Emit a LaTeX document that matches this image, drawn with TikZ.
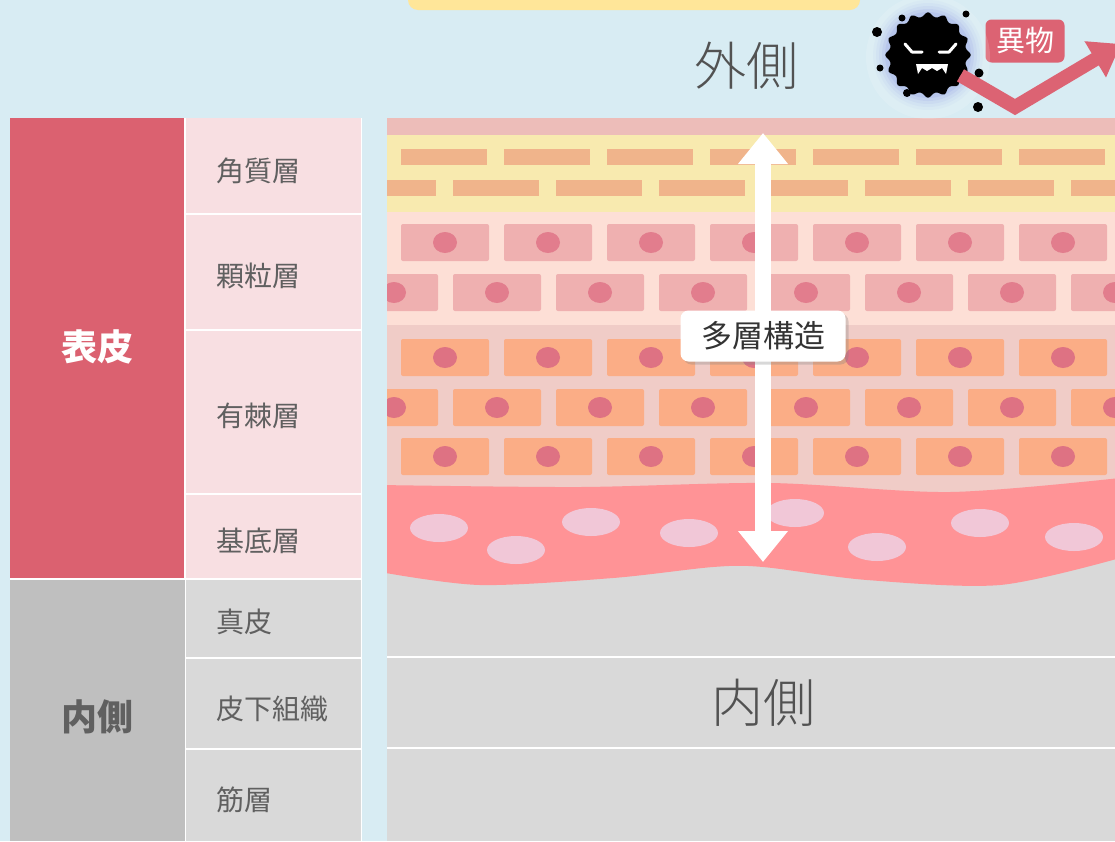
\documentclass[tikz,border=0pt]{standalone}
\usepackage{fontspec}
\setmainfont{Noto Sans CJK JP}
\newfontfamily\thinjp{Noto Sans CJK JP Light}
\usetikzlibrary{arrows.meta,shapes.geometric,shadows}

\definecolor{sky}{HTML}{D8ECF3}
\definecolor{lemon}{HTML}{FFE699}
\definecolor{epired}{HTML}{DB6170}
\definecolor{epipink}{HTML}{F8DFE2}
\definecolor{deepgray}{HTML}{BFBFBF}
\definecolor{palegray}{HTML}{D9D9D9}
\definecolor{txtgray}{HTML}{606060}
\definecolor{horny}{HTML}{EDBDB9}
\definecolor{hornbg}{HTML}{F8EAAF}
\definecolor{hornbrick}{HTML}{F0B48B}
\definecolor{granbg}{HTML}{FDDFD6}
\definecolor{granbrick}{HTML}{EFB0B0}
\definecolor{grannuc}{HTML}{E27D8D}
\definecolor{spinbg}{HTML}{F0CCC7}
\definecolor{spinbrick}{HTML}{FBAD86}
\definecolor{spinnuc}{HTML}{DE7283}
\definecolor{basal}{HTML}{FF9396}
\definecolor{basalcell}{HTML}{F1C7D7}
\definecolor{alien}{HTML}{DC6373}
\definecolor{glow}{HTML}{8E9AE6}

\tikzset{
  layername/.style={anchor=west, text=txtgray, font=\fontsize{28}{32}\selectfont},
  groupname/.style={font=\bfseries\fontsize{36}{40}\selectfont},
  sidename/.style={text=black!68, font=\thinjp\fontsize{52}{58}\selectfont},
  brick/.style={rounded corners=2pt},
  bigarrow/.style={white, line width=16pt,
    {Triangle[width=48pt,length=31pt]}-{Triangle[width=48pt,length=31pt]}},
  tagbox/.style={fill=white, rounded corners=8pt, minimum width=165pt, minimum height=51pt,
    text=black!80, font=\fontsize{31}{34}\selectfont,
    drop shadow={shadow xshift=3pt, shadow yshift=-3pt, opacity=.3}},
  alienbox/.style={fill=alien, rounded corners=6pt, minimum width=79pt, minimum height=43pt,
    text=white, font=\fontsize{29}{32}\selectfont},
  alienarrow/.style={alien, line width=14pt, -{Triangle[width=40pt,length=30pt]}},
}

\begin{document}
\begin{tikzpicture}[x=1pt,y=-1pt]
\useasboundingbox (0,0) rectangle (1115,841);
\fill[sky] (0,0) rectangle (1115,841);
\fill[lemon, rounded corners=10pt] (408,-20) rectangle (860,10);

% table on the left
\fill[white] (10,118) rectangle (362,841);
\fill[epired] (10,118) rectangle (184,578);
\fill[epipink] (186,118) rectangle (361,578);
\fill[deepgray] (10,580) rectangle (185,841);
\fill[palegray] (186,580) rectangle (361,841);
\foreach \y in {214,330,493.5,658,749}
  \draw[white, line width=2pt] (186,\y) -- (361,\y);

\node[groupname, text=white] (hyohi) at (97,347) {表皮};
\node[groupname, text=txtgray] (naisoku) at (97,717) {内側};
\node[layername] (kakushitsu) at (213,171) {角質層};
\node[layername] (karyu) at (213,276) {顆粒層};
\node[layername] (yukyoku) at (213,416) {有棘層};
\node[layername] (kitei) at (213,541) {基底層};
\node[layername] (shinpi) at (213,622) {真皮};
\node[layername] (hika) at (213,709) {皮下組織};
\node[layername] (kinso) at (213,800) {筋層};

% skin section
\begin{scope}
  \clip (387,118) rectangle (1115,841);
  \fill[horny] (387,118) rectangle (1115,135);
  \fill[hornbg] (387,135) rectangle (1115,212);
  \fill[granbg] (387,212) rectangle (1115,325);
  \fill[spinbg] (387,325) rectangle (1115,600);
  \fill[palegray] (387,560) rectangle (1115,841);

  \foreach \x in {0,...,7} {
    \fill[hornbrick] ({401+103*\x},149) rectangle +(86,16);
    \fill[hornbrick] ({350+103*\x},180) rectangle +(86,16);
  }
  \foreach \y/\s in {224/401, 274/350} \foreach \x in {0,...,7} {
    \fill[granbrick, brick] ({\s+103*\x},\y) rectangle +(88,37);
    \fill[grannuc] ({\s+44+103*\x},{\y+18.5}) ellipse [x radius=12, y radius=10.5];
  }
  \foreach \y/\s in {339/401, 389/350, 438/401} \foreach \x in {0,...,7} {
    \fill[spinbrick, brick] ({\s+103*\x},\y) rectangle +(88,37);
    \fill[spinnuc] ({\s+44+103*\x},{\y+18.5}) ellipse [x radius=12, y radius=10.5];
  }

  % basal layer
  \fill[basal] plot[smooth] coordinates {(380,485) (580,487) (770,483) (950,492) (1120,478)}
    -- plot[smooth] coordinates {(1120,558) (1000,585) (867,580) (763,567) (713,567) (613,578) (480,585) (380,572)}
    -- cycle;
  \foreach \x/\y in {439/528, 516/550, 591/522, 689/533, 795/513, 877/547, 980/523, 1074/537}
    \fill[basalcell] (\x,\y) ellipse [x radius=29, y radius=14];
\end{scope}
\foreach \y in {657,748}
  \draw[white, line width=2.5pt] (387,\y) -- (1115,\y);

\node[sidename] (sotogawa) at (746,66) {外側};
\node[sidename] (uchigawa) at (763,703) {内側};

% thickness arrow
\coordinate (surface) at (763,133);
\coordinate (base) at (763,562);
\draw[bigarrow] (surface) -- (base);
\node[tagbox] (tasou) at (763,336) {多層構造};

% intruder
\node[alienbox] (ibutsu) at (1025,41) {異物};
\coordinate (bend) at (1015,107);
\coordinate (exit) at (1121,44);
\fill[white, opacity=.15] (928,57) circle [radius=62];
\foreach \r/\o in {55/.05, 52/.07, 49/.1, 46/.14, 43/.2}
  \fill[glow, opacity=\o] (928,55) circle [radius=\r];
\node[star, star points=16, star point ratio=1.18, fill=black, minimum size=88pt,
  inner sep=0pt, rounded corners=3pt] (virus) at (928,55) {};
\draw[alienarrow] (virus.-32) -- (bend) -- (exit);
\draw[white, line width=3pt, line cap=round, line join=round] (905,44) -- (912,52) -- (922,52);
\draw[white, line width=3pt, line cap=round, line join=round] (956,44) -- (949,52) -- (939,52);
\fill[white] (916,64) -- (948,64) -- (946,74) -- (942,68) -- (937,71) -- (932,68)
  -- (927,71) -- (922,68) -- (918,74) -- cycle;
\foreach \x/\y/\r in {877/32/5, 902/18/3.5, 966/14/3.5, 880/68/3.5, 907/93/4, 979/73/4.5, 978/107/5}
  \fill (\x,\y) circle [radius=\r];
\end{tikzpicture}
\end{document}
